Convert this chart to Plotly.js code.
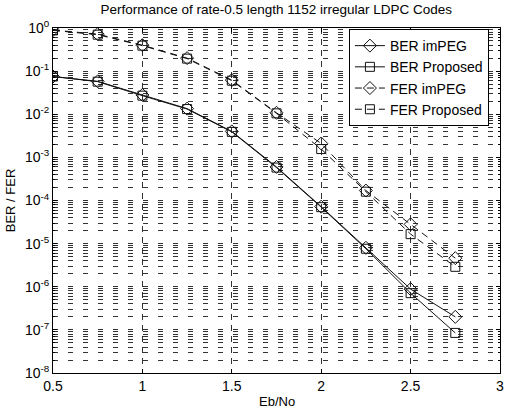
<!DOCTYPE html>
<html>
<head>
<meta charset="utf-8">
<script src="https://cdn.plot.ly/plotly-3.0.1.min.js"></script>
<style>html,body{margin:0;padding:0;background:#fff;}#chart{width:506px;height:411px;}</style>
</head>
<body>
<div id="chart"></div>
<script>
// Eb/No values (dB)
const ebno = [0.5, 0.75, 1.0, 1.25, 1.5, 1.75, 2.0, 2.25, 2.5, 2.75];
// Series values
const berImPEG    = [0.075, 0.058, 0.028, 0.0135, 0.0040, 0.00060, 0.000072, 0.0000080, 0.00000088, 0.00000020];
const berProposed = [0.075, 0.057, 0.027, 0.0132, 0.0039, 0.00058, 0.000070, 0.0000076, 0.00000071, 0.000000085];
const ferImPEG    = [0.90, 0.72, 0.40, 0.20, 0.062, 0.0108, 0.0021, 0.00017, 0.000028, 0.0000046];
const ferProposed = [0.88, 0.70, 0.39, 0.195, 0.060, 0.0105, 0.00156, 0.00016, 0.0000166, 0.0000029];
// Tick labels
const yTickVals = [1, 1e-1, 1e-2, 1e-3, 1e-4, 1e-5, 1e-6, 1e-7, 1e-8];
const yTickText = ['10<sup>0</sup>', '10<sup>-1</sup>', '10<sup>-2</sup>', '10<sup>-3</sup>', '10<sup>-4</sup>', '10<sup>-5</sup>', '10<sup>-6</sup>', '10<sup>-7</sup>', '10<sup>-8</sup>'];
const xTickVals = [0.5, 1, 1.5, 2, 2.5, 3];
const xTickText = ['0.5', '1', '1.5', '2', '2.5', '3'];
const xTitle = 'Eb/No';

const lineCol = '#111';
const traces = [
  {x: ebno, y: berImPEG, name: 'BER imPEG', mode: 'lines+markers',
   line: {color: lineCol, width: 1}, marker: {symbol: 'diamond-open', size: 10, color: lineCol, line: {width: 1}}},
  {x: ebno, y: berProposed, name: 'BER Proposed', mode: 'lines+markers',
   line: {color: lineCol, width: 1}, marker: {symbol: 'square-open', size: 9, color: lineCol, line: {width: 1}}},
  {x: ebno, y: ferImPEG, name: 'FER imPEG', mode: 'lines+markers',
   line: {color: lineCol, width: 1, dash: '7px,5px'}, marker: {symbol: 'diamond-open', size: 10, color: lineCol, line: {width: 1}}},
  {x: ebno, y: ferProposed, name: 'FER Proposed', mode: 'lines+markers',
   line: {color: lineCol, width: 1, dash: '7px,5px'}, marker: {symbol: 'square-open', size: 9, color: lineCol, line: {width: 1}}}
];

const gridCol = '#333';
const layout = {
  width: 506, height: 411,
  margin: {l: 53, r: 6, t: 28, b: 38},
  paper_bgcolor: '#fff', plot_bgcolor: '#fff',
  font: {family: 'Liberation Sans, Arial, sans-serif', color: '#000', size: 12},
  title: {text: 'Performance of rate-0.5 length 1152 irregular LDPC Codes', font: {size: 13.5}, x: 0.546, xanchor: 'center', y: 0.978, yanchor: 'middle'},
  showlegend: true,
  legend: {x: 0.662, y: 0.997, xanchor: 'left', yanchor: 'top', bgcolor: '#fff', bordercolor: '#000', borderwidth: 1,
           font: {size: 14}, itemwidth: 30, tracegroupgap: 0},
  annotations: [
    {text: xTitle, xref: 'paper', yref: 'paper', x: 0.5, y: -0.084, xanchor: 'center', yanchor: 'middle',
     showarrow: false, font: {size: 13}}
  ],
  xaxis: {
    range: [0.5, 3], tickvals: xTickVals, ticktext: xTickText,
    showline: true, linecolor: '#000', linewidth: 1, mirror: 'ticks',
    ticks: 'inside', ticklen: 4, tickcolor: '#000',
    showgrid: true, gridcolor: gridCol, gridwidth: 1, griddash: '6px,5px',
    zeroline: false, tickfont: {size: 14}
  },
  yaxis: {
    title: {text: 'BER / FER', font: {size: 13}, standoff: 6},
    type: 'log', range: [-8, 0], tickvals: yTickVals, ticktext: yTickText,
    showline: true, linecolor: '#000', linewidth: 1, mirror: 'ticks',
    ticks: 'inside', ticklen: 4, tickcolor: '#000',
    showgrid: true, gridcolor: gridCol, gridwidth: 1, griddash: '5px,10px',
    minor: {dtick: 'D1', showgrid: true, gridcolor: gridCol, gridwidth: 1, griddash: '5px,10px', ticks: 'inside', ticklen: 2, tickcolor: '#000'},
    zeroline: false, tickfont: {size: 14}
  }
};

Plotly.newPlot('chart', traces, layout, {displayModeBar: false, staticPlot: true});
</script>
</body>
</html>
